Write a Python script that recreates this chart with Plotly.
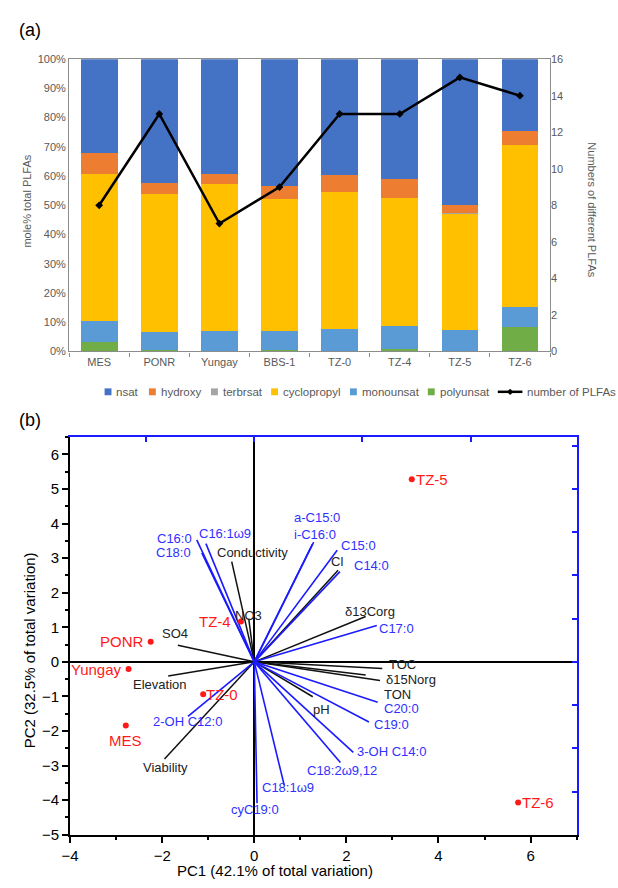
import plotly.graph_objects as go

# ---------------- Panel (a) data ----------------
sites = ["MES", "PONR", "Yungay", "BBS-1", "TZ-0", "TZ-4", "TZ-5", "TZ-6"]
polyunsat = [3.1, 0.5, 0.0, 0.5, 0.3, 0.7, 0.2, 8.5]
monounsat = [7.3, 6.0, 7.0, 6.5, 7.3, 8.1, 7.1, 6.8]
cyclopropyl = [50.3, 47.5, 50.2, 45.0, 46.8, 43.8, 39.9, 55.2]
terbrsat = [0.0, 0.0, 0.0, 0.0, 0.0, 0.0, 0.3, 0.0]
hydroxy = [7.2, 3.8, 3.5, 4.7, 6.0, 6.3, 2.7, 4.9]
nsat = [32.1, 42.2, 39.3, 43.3, 39.6, 41.1, 49.8, 24.6]
n_plfas = [8, 13, 7, 9, 13, 13, 15, 14]

# ---------------- Panel (b) data ----------------
sample_names = ["TZ-5", "PONR", "Yungay", "TZ-0", "MES", "TZ-4", "TZ-6"]
sample_pc1 = [3.42, -2.25, -2.73, -1.11, -2.79, -0.29, 5.73]
sample_pc2 = [5.28, 0.58, -0.21, -0.94, -1.84, 1.17, -4.07]

fa_names = ["C16:0", "C18:0", "C16:1ω9", "a-C15:0", "i-C16:0", "C15:0", "C14:0",
            "C17:0", "C20:0", "C19:0", "3-OH C14:0", "C18:2ω9,12", "C18:1ω9",
            "cyC19:0", "2-OH C12:0"]
fa_pc1 = [-1.25, -1.14, -1.05, 1.29, 1.26, 1.80, 1.86, 2.66, 2.68, 2.49, 2.15, 1.87,
          0.65, 0.06, -1.44]
fa_pc2 = [3.53, 3.15, 3.42, 3.46, 3.40, 3.23, 2.61, 1.05, -1.17, -1.74, -2.62, -2.91,
          -3.57, -4.09, -1.58]

env_names = ["Conductivity", "NO3", "Cl", "δ13Corg", "TOC", "δ15Norg", "TON", "pH",
             "Viability", "Elevation", "SO4"]
env_pc1 = [-0.49, -0.12, 1.82, 2.42, 2.78, 2.73, 2.42, 1.27, -1.95, -1.87, -1.66]
env_pc2 = [2.90, 1.25, 2.65, 1.31, -0.19, -0.54, -0.38, -1.01, -2.81, -0.41, 0.48]

# label placement (anchor x, anchor y, xshift px, yshift px)
label_pos = {
    "C16:0": ("right", "middle", -3, 1),
    "C18:0": ("right", "middle", -9, 0),
    "C16:1ω9": ("left", "bottom", -9, 1),
    "a-C15:0": ("center", "bottom", 3, 15),
    "i-C16:0": ("center", "bottom", 3, 0),
    "C15:0": ("left", "middle", 2, 5),
    "C14:0": ("left", "middle", 12, 6),
    "C17:0": ("left", "middle", 0, -3),
    "C20:0": ("left", "middle", 4, -6),
    "C19:0": ("left", "middle", 3, -2),
    "3-OH C14:0": ("left", "middle", 2, 1),
    "C18:2ω9,12": ("center", "top", 2, 1),
    "C18:1ω9": ("center", "middle", 4, -2),
    "cyC19:0": ("center", "middle", -2, -6),
    "2-OH C12:0": ("center", "middle", 0, -5),
    "Conductivity": ("left", "bottom", -17, 0),
    "NO3": ("center", "bottom", 0, -6),
    "Cl": ("center", "bottom", -1, -1),
    "δ13Corg": ("center", "bottom", 4, -4),
    "TOC": ("left", "middle", 5, 4),
    "δ15Norg": ("left", "middle", 4, 1),
    "TON": ("left", "middle", 16, -20),
    "pH": ("left", "top", -2, -3),
    "Viability": ("center", "top", 1, 1),
    "Elevation": ("center", "top", -9, 1),
    "SO4": ("center", "bottom", -3, 2),
}
sample_label_pos = {
    "TZ-5": ("left", "middle", 2, 0),
    "PONR": ("right", "middle", -5, 0),
    "Yungay": ("right", "middle", -5, 0),
    "TZ-0": ("left", "middle", 1, 0),
    "MES": ("center", "top", 0, -5),
    "TZ-4": ("right", "middle", -8, 0),
    "TZ-6": ("left", "middle", 2, 0),
}

FONT = "Liberation Sans, Arial, sans-serif"
GRAY = "#595959"
BLUE_LINE = "#1a1aff"
BLUE_TXT = "#3030ff"
RED = "#ff1a1a"
W, H = 618, 888

fig = go.Figure()

# ---- Panel (a) bars ----
bar_series = [
    ("polyunsat", polyunsat, "#70AD47"),
    ("monounsat", monounsat, "#5B9BD5"),
    ("cyclopropyl", cyclopropyl, "#FFC000"),
    ("terbrsat", terbrsat, "#A5A5A5"),
    ("hydroxy", hydroxy, "#ED7D31"),
    ("nsat", nsat, "#4472C4"),
]
for name, vals, col in bar_series:
    fig.add_trace(go.Bar(x=sites, y=vals, name=name, marker=dict(color=col, line=dict(width=0)),
                         xaxis="x", yaxis="y", showlegend=False))

fig.add_trace(go.Scatter(x=sites, y=n_plfas, name="number of PLFAs", mode="lines+markers",
                         line=dict(color="black", width=2.5),
                         marker=dict(symbol="diamond", size=6, color="black"),
                         xaxis="x", yaxis="y2", showlegend=False))

# ---- Panel (b) loadings ----
def segs(xs, ys):
    sx, sy = [], []
    for a, b in zip(xs, ys):
        sx += [0, a, None]
        sy += [0, b, None]
    return sx, sy

ex, ey = segs(env_pc1, env_pc2)
fig.add_trace(go.Scatter(x=ex, y=ey, mode="lines", line=dict(color="#111111", width=1.5),
                         xaxis="x3", yaxis="y3", showlegend=False, hoverinfo="skip"))
fx, fy = segs(fa_pc1, fa_pc2)
fig.add_trace(go.Scatter(x=fx, y=fy, mode="lines", line=dict(color=BLUE_LINE, width=1.6),
                         xaxis="x3", yaxis="y3", showlegend=False, hoverinfo="skip"))
fig.add_trace(go.Scatter(x=sample_pc1, y=sample_pc2, mode="markers",
                         marker=dict(color=RED, size=6), xaxis="x3", yaxis="y3",
                         showlegend=False))
fig.add_trace(go.Scatter(x=[None], y=[None], xaxis="x4", yaxis="y4", showlegend=False,
                         hoverinfo="skip"))

annotations = []
for names, xs, ys, col in [(fa_names, fa_pc1, fa_pc2, BLUE_TXT),
                           (env_names, env_pc1, env_pc2, "#222222")]:
    for n, a, b in zip(names, xs, ys):
        xa, ya, dx, dy = label_pos[n]
        annotations.append(dict(x=a, y=b, xref="x3", yref="y3", text=n, showarrow=False,
                                xanchor=xa, yanchor=ya, xshift=dx, yshift=dy,
                                font=dict(family=FONT, size=13, color=col)))
for n, a, b in zip(sample_names, sample_pc1, sample_pc2):
    xa, ya, dx, dy = sample_label_pos[n]
    annotations.append(dict(x=a, y=b, xref="x3", yref="y3", text=n, showarrow=False,
                            xanchor=xa, yanchor=ya, xshift=dx, yshift=dy,
                            font=dict(family=FONT, size=15, color=RED)))

# ---- custom legend row for panel (a) ----
legend_items = ["nsat", "hydroxy", "terbrsat", "cyclopropyl", "monounsat", "polyunsat"]
legend_colors = {n: c for n, _, c in bar_series}
legend_x = [97, 142, 205, 266, 346, 425]
LEG_Y = 392
shapes = []
for n, px in zip(legend_items, legend_x):
    shapes.append(dict(type="rect", xref="paper", yref="paper",
                       x0=px/W, x1=(px+7)/W, y0=1-(LEG_Y+3.5)/H, y1=1-(LEG_Y-3.5)/H,
                       fillcolor=legend_colors[n], line=dict(width=0)))
    annotations.append(dict(x=(px+10)/W, y=1-LEG_Y/H, xref="paper", yref="paper", text=n,
                            showarrow=False, xanchor="left", yanchor="middle",
                            font=dict(family=FONT, size=11.5, color=GRAY)))
shapes.append(dict(type="line", xref="paper", yref="paper", x0=496/W, x1=521/W,
                   y0=1-LEG_Y/H, y1=1-LEG_Y/H, line=dict(color="black", width=2.5)))
annotations.append(dict(x=508.5/W, y=1-LEG_Y/H, xref="paper", yref="paper", text="◆",
                        showarrow=False, xanchor="center", yanchor="middle",
                        font=dict(family="DejaVu Sans", size=8, color="black")))
annotations.append(dict(x=524/W, y=1-LEG_Y/H, xref="paper", yref="paper",
                        text="number of PLFAs", showarrow=False, xanchor="left",
                        yanchor="middle", font=dict(family=FONT, size=11.5, color=GRAY)))

# panel letters and axis titles
annotations += [
    dict(x=8/W, y=1-24/H, xref="paper", yref="paper", text="(a)", showarrow=False,
         xanchor="left", yanchor="middle", font=dict(family=FONT, size=18, color="black")),
    dict(x=8/W, y=1-421/H, xref="paper", yref="paper", text="(b)", showarrow=False,
         xanchor="left", yanchor="middle", font=dict(family=FONT, size=18, color="black")),
    dict(x=18/W, y=1-198/H, xref="paper", yref="paper", text="mole% total PLFAs",
         textangle=-90, showarrow=False, xanchor="center", yanchor="middle",
         font=dict(family=FONT, size=11, color=GRAY)),
    dict(x=592/W, y=1-207/H, xref="paper", yref="paper", text="Numbers of different PLFAs",
         textangle=90, showarrow=False, xanchor="center", yanchor="middle",
         font=dict(family=FONT, size=11, color=GRAY)),
    dict(x=21/W, y=1-655/H, xref="paper", yref="paper",
         text="PC2 (32.5% of total variation)", textangle=-90, showarrow=False,
         xanchor="center", yanchor="middle", font=dict(family=FONT, size=15, color="black")),
    dict(x=270/W, y=1-878/H, xref="paper", yref="paper",
         text="PC1 (42.1% of total variation)", showarrow=False,
         xanchor="center", yanchor="middle", font=dict(family=FONT, size=15, color="black")),
]

top_dom_x = [61/W, 549/W]
top_dom_y = [1-351/H, 1-54/H]
bot_dom_x = [62/W, 576/W]
bot_dom_y = [1-842/H, 1-438/H]

fig.update_layout(
    width=W, height=H,
    margin=dict(l=0, r=0, t=0, b=0),
    paper_bgcolor="white", plot_bgcolor="white",
    barmode="stack", bargap=0.39,
    font=dict(family=FONT, color=GRAY, size=11),
    showlegend=False,
    xaxis=dict(domain=top_dom_x, anchor="y", showline=True, mirror=True, linecolor="#8c8c8c",
               linewidth=1.2, ticks="outside", tickson="boundaries", ticklen=4,
               tickcolor="#8c8c8c", showgrid=False,
               tickfont=dict(family=FONT, size=11, color=GRAY)),
    yaxis=dict(domain=top_dom_y, anchor="x", range=[0, 100], dtick=10, ticksuffix="%",
               showline=True, mirror=True, linecolor="#8c8c8c", linewidth=1.2,
               showgrid=False, zeroline=False, ticks="",
               tickfont=dict(family=FONT, size=11, color=GRAY)),
    yaxis2=dict(overlaying="y", side="right", anchor="x", range=[0, 16], dtick=2,
                showgrid=False, zeroline=False, showline=False, ticks="",
                tickfont=dict(family=FONT, size=11, color=GRAY)),
    xaxis3=dict(domain=bot_dom_x, anchor="y3", range=[-4, 7], tickvals=[-4, -2, 0, 2, 4, 6],
                ticks="outside", ticklen=6, tickwidth=1.5, tickcolor="black",
                minor=dict(dtick=1, ticks="outside", ticklen=3, tickcolor="black", showgrid=False),
                showline=True, linecolor="black", linewidth=2, showgrid=False,
                zeroline=True, zerolinecolor="black", zerolinewidth=1.8,
                tickfont=dict(family=FONT, size=15, color="black")),
    yaxis3=dict(domain=bot_dom_y, anchor="x3", range=[-5, 6.5], dtick=1,
                ticks="outside", ticklen=6, tickwidth=1.5, tickcolor="black",
                minor=dict(dtick=0.5, ticks="outside", ticklen=3, tickcolor="black", showgrid=False),
                showline=True, linecolor="black", linewidth=2, showgrid=False,
                zeroline=True, zerolinecolor="black", zerolinewidth=1.8,
                tickfont=dict(family=FONT, size=15, color="black")),
    xaxis4=dict(overlaying="x3", anchor="y3", side="top", range=[-4/2.35, 7/2.35], dtick=1,
                ticks="inside", ticklen=5, tickwidth=1.5, tickcolor=BLUE_LINE,
                showticklabels=False, showline=True, linecolor=BLUE_LINE, linewidth=2,
                showgrid=False, zeroline=False),
    yaxis4=dict(overlaying="y3", anchor="x3", side="right", range=[-4, 5.2], dtick=1,
                ticks="inside", ticklen=5, tickwidth=1.5, tickcolor=BLUE_LINE,
                showticklabels=False, showline=True, linecolor=BLUE_LINE, linewidth=2,
                showgrid=False, zeroline=False),
    annotations=annotations,
    shapes=shapes,
)

fig.write_html("out.html", config={"displayModeBar": False},
               post_script="document.body.style.margin='0px';document.body.style.overflow='hidden';")
